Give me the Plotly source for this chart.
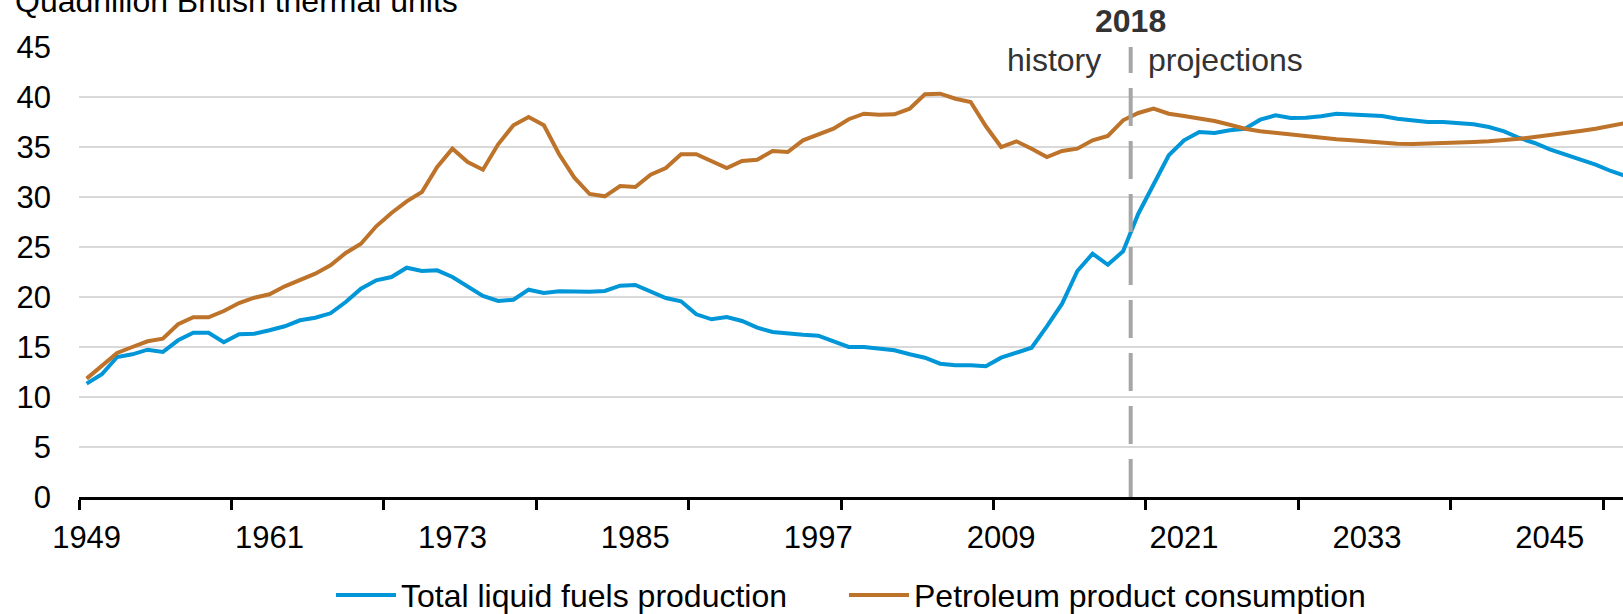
import plotly.graph_objects as go

years = list(range(1949, 2051))

production = [
    11.34, 12.27, 14.0, 14.27, 14.73, 14.5, 15.67, 16.43, 16.43, 15.47,
    16.27, 16.33, 16.67, 17.07, 17.67, 17.93, 18.37, 19.5, 20.83, 21.67,
    22.0, 22.93, 22.6, 22.67, 22.0, 21.0, 20.1, 19.6, 19.73, 20.73,
    20.4, 20.57, 20.5, 20.53, 20.6, 21.13, 21.2, 20.5, 19.9, 19.57,
    18.27, 17.77, 18.0, 17.6, 16.93, 16.5, 16.33, 16.23, 16.13, 15.6,
    15.0, 15.0, 14.83, 14.67, 14.27, 13.93, 13.33, 13.17, 13.17, 13.07,
    13.93, 14.4, 14.93, 17.07, 19.33, 22.6, 24.33, 23.22, 24.57, 28.33,
    31.33, 34.17, 35.67, 36.5, 36.4, 36.67, 36.83, 37.73, 38.17, 37.9,
    37.93, 38.07, 38.33, 38.23, 38.2, 38.1, 37.83, 37.67, 37.5, 37.5,
    37.4, 37.27, 37.0, 36.57, 35.9, 35.4, 34.77, 34.27, 33.77, 33.23,
    32.6, 32.07,
]

consumption = [
    11.84, 13.17, 14.4, 15.0, 15.57, 15.83, 17.27, 17.97, 17.97, 18.6,
    19.4, 19.93, 20.27, 21.07, 21.73, 22.33, 23.17, 24.4, 25.33, 27.07,
    28.4, 29.57, 30.5, 33.0, 34.83, 33.5, 32.73, 35.27, 37.17, 38.0,
    37.17, 34.27, 31.93, 30.3, 30.07, 31.1, 31.0, 32.23, 32.9, 34.27,
    34.27, 33.6, 32.9, 33.6, 33.73, 34.6, 34.5, 35.67, 36.27, 36.83,
    37.78, 38.33, 38.23, 38.27, 38.83, 40.27, 40.33, 39.83, 39.5, 37.07,
    35.0, 35.57, 34.83, 34.0, 34.6, 34.83, 35.67, 36.1, 37.67, 38.4,
    38.83, 38.33, 38.1, 37.9, 37.6, 37.23, 36.83, 36.57, 36.4, 36.23,
    36.07, 35.9, 35.77, 35.67, 35.53, 35.43, 35.33, 35.3, 35.33, 35.4,
    35.47, 35.5, 35.57, 35.67, 35.83, 36.0, 36.17, 36.4, 36.6, 36.83,
    37.07, 37.4,
]

series_names = ["Total liquid fuels production", "Petroleum product consumption"]
series_colors = ["#0096D7", "#BD732A"]
legend_widths = [438, None]
last_history_year = 2018
label_years = years[::12]
tick_bounds = [y - 0.5 for y in years[::10]]
y_ticks = list(range(0, 46, 5))

FONT = "Arial, 'Liberation Sans', sans-serif"

fig = go.Figure()
for name, vals, col, lw in zip(series_names, [production, consumption], series_colors, legend_widths):
    tr = dict(x=years, y=vals, mode="lines", name=name,
              line=dict(color=col, width=4), hoverinfo="skip")
    if lw:
        tr["legendwidth"] = lw
    fig.add_trace(go.Scatter(**tr))

boundary = last_history_year - 0.5

fig.add_shape(
    type="line", xref="x", yref="y",
    x0=boundary, x1=boundary, y0=0, y1=45,
    line=dict(color="#A6A6A6", width=4, dash="38px,15px"),
    layer="above",
)

fig.add_annotation(
    x=boundary, xref="x", y=1, yref="paper", yanchor="middle",
    text="<b>" + str(last_history_year) + "</b>", showarrow=False,
    yshift=26, font=dict(family=FONT, size=32, color="#333333"),
)
fig.add_annotation(
    x=boundary, xref="x", y=1, yref="paper", yanchor="middle", xanchor="right",
    text="history", showarrow=False, xshift=-28, yshift=-13,
    font=dict(family=FONT, size=32, color="#333333"),
)
fig.add_annotation(
    x=boundary, xref="x", y=1, yref="paper", yanchor="middle", xanchor="left",
    text="projections", showarrow=False, xshift=15, yshift=-13,
    font=dict(family=FONT, size=32, color="#333333"),
)
fig.add_annotation(
    x=0, xref="paper", y=1, yref="paper", xanchor="left", yanchor="bottom",
    text="Quadrillion British thermal units", showarrow=False,
    xshift=-66, yshift=26, font=dict(family=FONT, size=32, color="#000000"),
)

fig.update_layout(
    width=1623, height=614,
    margin=dict(l=79, r=0, t=47, b=117, autoexpand=False),
    paper_bgcolor="white", plot_bgcolor="white",
    font=dict(family=FONT, size=31, color="#000000"),
    showlegend=True,
    legend=dict(
        orientation="h", x=0.5, xanchor="center", y=-0.218, yanchor="middle",
        font=dict(family=FONT, size=32, color="#000000"),
        itemwidth=60,
    ),
    xaxis=dict(
        range=[years[0] - 0.5, 2049.8], automargin=False,
        tickmode="array", tickvals=label_years,
        ticktext=[str(y) for y in label_years],
        ticks="", showgrid=False, zeroline=False,
        showline=True, linecolor="#000000", linewidth=3,
        ticklabelstandoff=11,
        tickfont=dict(family=FONT, size=31, color="#000000"),
        minor=dict(tickmode="array", tickvals=tick_bounds, ticks="outside",
                   ticklen=10, tickwidth=3, tickcolor="#000000", showgrid=False),
    ),
    yaxis=dict(
        range=[0, 45], automargin=False, tickmode="array", tickvals=y_ticks,
        showgrid=True, gridcolor="#D9D9D9", gridwidth=2,
        zeroline=False, showline=False, ticks="",
        ticklabelstandoff=27,
        tickfont=dict(family=FONT, size=31, color="#000000"),
    ),
)

fig.write_html(
    "out.html",
    config={"displayModeBar": False},
    post_script="document.body.style.margin='0px';",
)
